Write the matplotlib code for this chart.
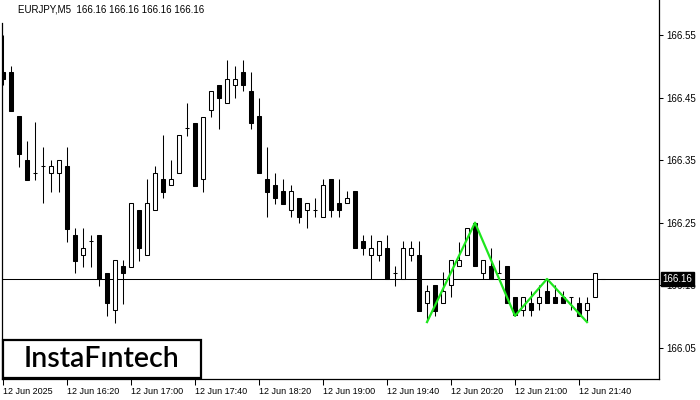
import matplotlib
matplotlib.use("Agg")
import matplotlib.pyplot as plt
from matplotlib.patches import Rectangle

# EURJPY M5 bars, 12 Jun 2025 15:40 .. 21:55
opens = [166.491, 166.491, 166.420, 166.350, 166.330, 166.341, 166.330, 166.330,
         166.341, 166.230, 166.199, 166.221, 166.230, 166.170, 166.111, 166.181,
         166.179, 166.270, 166.199, 166.270, 166.319, 166.310, 166.330, 166.401,
         166.410, 166.319, 166.430, 166.470, 166.441, 166.470, 166.491, 166.460,
         166.420, 166.319, 166.310, 166.300, 166.270, 166.290, 166.270, 166.270,
         166.259, 166.319, 166.281, 166.281, 166.300, 166.221, 166.199, 166.199,
         166.210, 166.170, 166.160, 166.199, 166.199, 166.121, 166.150, 166.121,
         166.150, 166.180, 166.199, 166.250, 166.170, 166.180, 166.170, 166.180,
         166.131, 166.111, 166.121, 166.121, 166.141, 166.131, 166.131, 166.131,
         166.121, 166.111, 166.131, 166.160]
highs = [166.550, 166.500, 166.420, 166.381, 166.411, 166.371, 166.350, 166.350,
         166.371, 166.241, 166.241, 166.230, 166.230, 166.170, 166.190, 166.190,
         166.281, 166.270, 166.319, 166.341, 166.390, 166.350, 166.390, 166.441,
         166.410, 166.419, 166.460, 166.470, 166.510, 166.500, 166.510, 166.491,
         166.450, 166.371, 166.330, 166.319, 166.310, 166.290, 166.281, 166.290,
         166.319, 166.319, 166.319, 166.300, 166.300, 166.230, 166.230, 166.220,
         166.230, 166.181, 166.221, 166.221, 166.221, 166.150, 166.150, 166.171,
         166.190, 166.219, 166.241, 166.250, 166.190, 166.210, 166.190, 166.180,
         166.131, 166.131, 166.141, 166.150, 166.160, 166.150, 166.141, 166.131,
         166.131, 166.131, 166.170, 166.160]
lows = [166.470, 166.429, 166.339, 166.318, 166.318, 166.281, 166.299, 166.299,
        166.219, 166.170, 166.179, 166.179, 166.149, 166.100, 166.090, 166.120,
        166.179, 166.189, 166.199, 166.270, 166.290, 166.310, 166.330, 166.389,
        166.309, 166.299, 166.419, 166.400, 166.441, 166.450, 166.460, 166.400,
        166.330, 166.259, 166.280, 166.280, 166.259, 166.250, 166.241, 166.259,
        166.259, 166.259, 166.259, 166.281, 166.210, 166.199, 166.160, 166.189,
        166.160, 166.149, 166.160, 166.189, 166.109, 166.091, 166.100, 166.121,
        166.131, 166.180, 166.199, 166.180, 166.160, 166.160, 166.170, 166.121,
        166.100, 166.100, 166.100, 166.111, 166.121, 166.121, 166.121, 166.111,
        166.100, 166.093, 166.131, 166.160]
closes = [166.479, 166.429, 166.360, 166.318, 166.330, 166.341, 166.341, 166.350,
          166.240, 166.189, 166.210, 166.221, 166.160, 166.121, 166.190, 166.170,
          166.281, 166.210, 166.281, 166.330, 166.299, 166.319, 166.390, 166.401,
          166.309, 166.419, 166.460, 166.450, 166.479, 166.479, 166.470, 166.410,
          166.330, 166.299, 166.290, 166.280, 166.300, 166.259, 166.281, 166.270,
          166.310, 166.270, 166.270, 166.290, 166.210, 166.210, 166.210, 166.220,
          166.160, 166.170, 166.210, 166.210, 166.109, 166.140, 166.109, 166.140,
          166.190, 166.190, 166.241, 166.180, 166.190, 166.160, 166.170, 166.121,
          166.102, 166.131, 166.111, 166.131, 166.121, 166.121, 166.121, 166.131,
          166.100, 166.121, 166.170, 166.160]

time_ticks = [0, 8, 16, 24, 32, 40, 48, 56, 64, 72]
time_labels = ["12 Jun 2025", "12 Jun 16:20", "12 Jun 17:00", "12 Jun 17:40",
               "12 Jun 18:20", "12 Jun 19:00", "12 Jun 19:40", "12 Jun 20:20",
               "12 Jun 21:00", "12 Jun 21:40"]
price_ticks = [166.05, 166.15, 166.25, 166.35, 166.45, 166.55]

# pattern outline (bar index, price)
pattern_idx = [53, 59, 64, 68, 73]
pattern_price = [166.091, 166.250, 166.101, 166.160, 166.091]

symbol = "EURJPY,M5"
last_price = 166.16

fig = plt.figure(figsize=(7, 4), dpi=100)
ax = fig.add_axes([2 / 700, 21 / 400, 657 / 700, 379 / 400])
ax.set_xlim(-0.125, 82)
ax.set_ylim(166.0, 166.606)

for i in range(len(opens)):
    o, h, l, c = opens[i], highs[i], lows[i], closes[i]
    ax.vlines(i, l, h, color="black", lw=0.75, zorder=2)
    if c == o:
        ax.hlines(o, i - 0.3, i + 0.3, color="black", lw=0.75, zorder=3)
    else:
        face = "white" if c > o else "black"
        ax.add_patch(Rectangle((i - 0.25, min(o, c)), 0.5, abs(c - o),
                               facecolor=face, edgecolor="black", lw=0.75, zorder=3))

ax.axhline(last_price, color="black", lw=0.75, zorder=1)
ax.plot(pattern_idx, pattern_price, color="#1ee61e", lw=1.6, zorder=5)

ax.spines["top"].set_visible(False)
for s in ["left", "right", "bottom"]:
    ax.spines[s].set_linewidth(0.9)
ax.spines["left"].set_bounds(166.0, 166.57)

ax.yaxis.tick_right()
ax.set_yticks(price_ticks)
ax.set_yticklabels([f"{p:.2f}" for p in price_ticks])
ax.tick_params(axis="y", direction="out", length=3, width=0.75, pad=2,
               labelsize=7, labelfontfamily="Liberation Sans")

ax.set_xticks(time_ticks)
ax.set_xticklabels(time_labels)
ax.tick_params(axis="x", direction="out", length=4, width=0.75, pad=2,
               labelsize=6.5, labelfontfamily="Liberation Sans")
for lbl in ax.get_xticklabels():
    lbl.set_ha("left")

ax.annotate(f"{last_price:.2f}", xy=(1, last_price), xycoords=("axes fraction", "data"),
            xytext=(2.6, 0), textcoords="offset points", ha="left", va="center",
            color="white", fontsize=7, family="Liberation Sans",
            bbox=dict(boxstyle="square,pad=0.2", fc="black", ec="black"),
            annotation_clip=False, zorder=10)

fig.text(18 / 700, 1 - 10 / 400,
         f"{symbol}  {last_price:.2f} {last_price:.2f} {last_price:.2f} {last_price:.2f}",
         fontsize=7, family="Liberation Sans", va="center")

# logo box
fig.add_artist(Rectangle((3 / 700, 22 / 400), 198 / 700, 38 / 400, transform=fig.transFigure,
                         facecolor="white", edgecolor="black", lw=1.6, zorder=5))
fig.text(102 / 700, 41 / 400, "InstaFıntech", ha="center", va="center",
         fontsize=20.5, family="Lato", fontweight="semibold", zorder=6)

fig.savefig("out.png", dpi=100)
